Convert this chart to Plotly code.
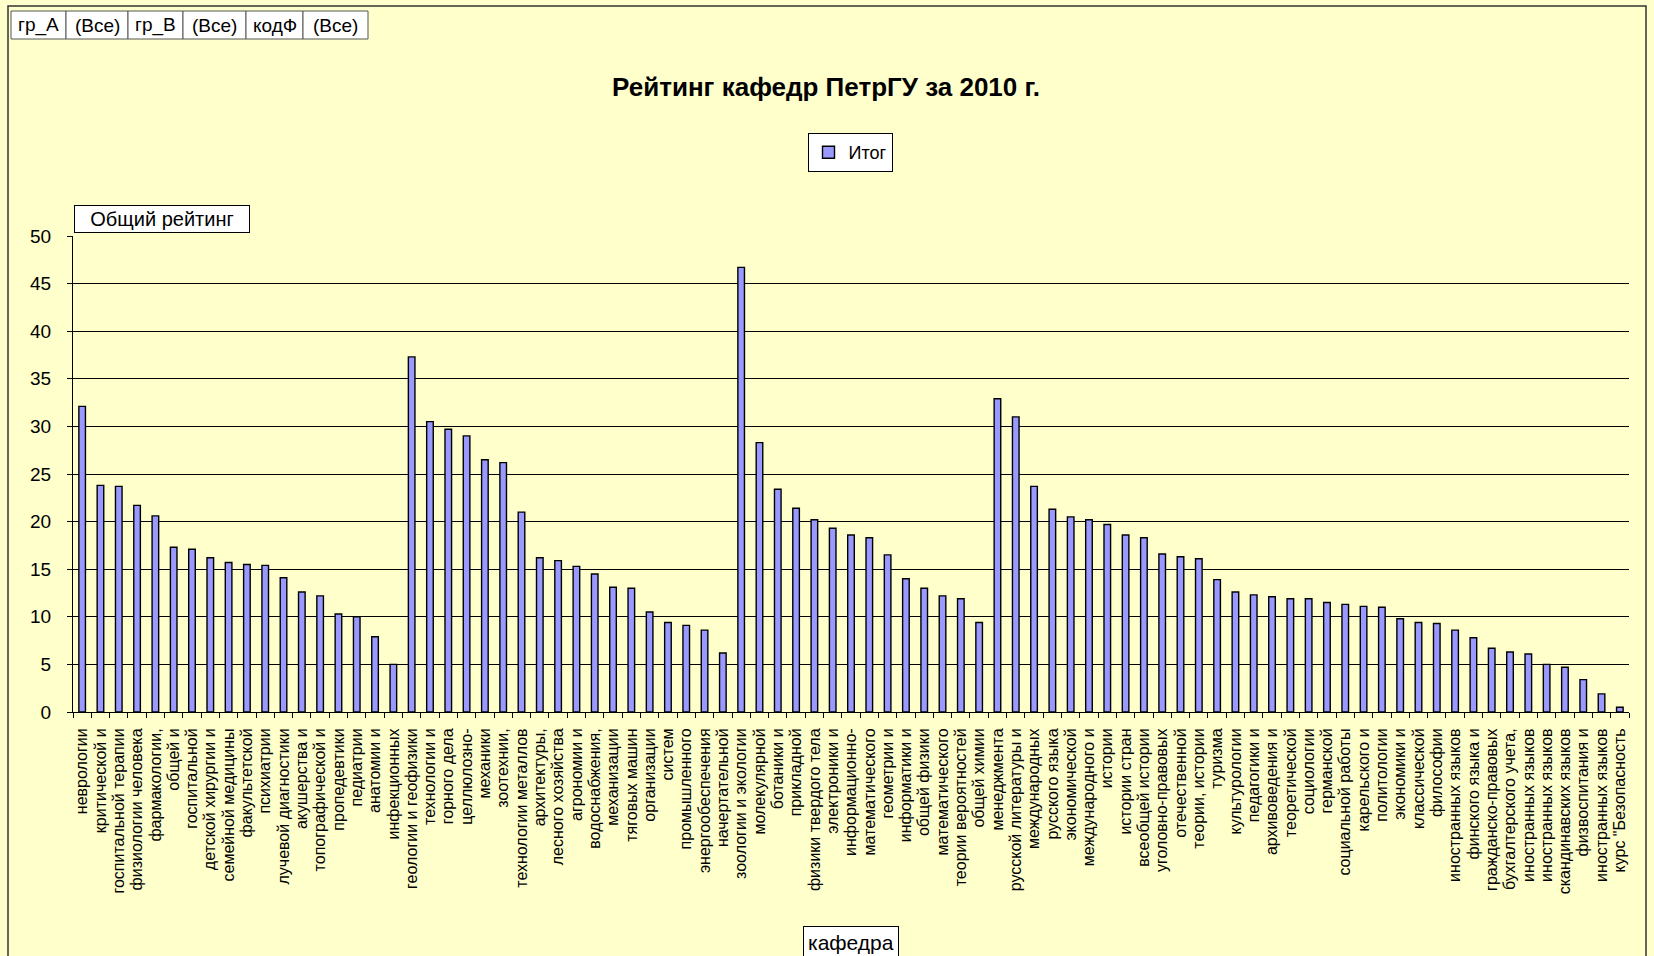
import plotly.graph_objects as go

categories = [
    "неврологии", "критической и", "госпитальной терапии", "физиологии человека",
    "фармакологии,", "общей и", "госпитальной", "детской хирургии и",
    "семейной медицины", "факультетской", "психиатрии", "лучевой диагностики",
    "акушерства и", "топографической и", "пропедевтики", "педиатрии",
    "анатомии и", "инфекционных", "геологии и геофизики", "технологии и",
    "горного дела", "целлюлозно-", "механики", "зоотехнии,",
    "технологии металлов", "архитектуры,", "лесного хозяйства", "агрономии и",
    "водоснабжения,", "механизации", "тяговых машин", "организации",
    "систем", "промышленного", "энергообеспечения", "начертательной",
    "зоологии и экологии", "молекулярной", "ботаники и", "прикладной",
    "физики твердого тела", "электроники и", "информационно-", "математического",
    "геометрии и", "информатики и", "общей физики", "математического",
    "теории вероятностей", "общей химии", "менеджмента", "русской литературы и",
    "международных", "русского языка", "экономической", "международного и",
    "истории", "истории стран", "всеобщей истории", "уголовно-правовых",
    "отечественной", "теории, истории", "туризма", "культурологии",
    "педагогики и", "архивоведения и", "теоретической", "социологии",
    "германской", "социальной работы", "карельского и", "политологии",
    "экономики и", "классической", "философии", "иностранных языков",
    "финского языка и", "гражданско-правовых", "бухгалтерского учета,", "иностранных языков",
    "иностранных языков", "скандинавских языков", "физвоспитания и", "иностранных языков",
    "курс \"Безопасность",
]

values = [
    32.1, 23.8, 23.7, 21.7, 20.6, 17.3, 17.1, 16.2, 15.7, 15.5,
    15.4, 14.1, 12.6, 12.2, 10.3, 10.0, 7.9, 5.0, 37.3, 30.5,
    29.7, 29.0, 26.5, 26.2, 21.0, 16.2, 15.9, 15.3, 14.5, 13.1,
    13.0, 10.5, 9.4, 9.1, 8.6, 6.2, 46.7, 28.3, 23.4, 21.4,
    20.2, 19.3, 18.6, 18.3, 16.5, 14.0, 13.0, 12.2, 11.9, 9.4,
    32.9, 31.0, 23.7, 21.3, 20.5, 20.2, 19.7, 18.6, 18.3, 16.6,
    16.3, 16.1, 13.9, 12.6, 12.3, 12.1, 11.9, 11.9, 11.5, 11.3,
    11.1, 11.0, 9.8, 9.4, 9.3, 8.6, 7.8, 6.7, 6.3, 6.1,
    5.0, 4.7, 3.4, 1.9, 0.5,
]

y_ticks = [0, 5, 10, 15, 20, 25, 30, 35, 40, 45, 50]
series_name = "Итог"
title_text = "Рейтинг кафедр ПетрГУ за 2010 г."
y_title = "Общий рейтинг"
x_title = "кафедра"
filter_labels = ["гр_А", "(Все)", "гр_В", "(Все)", "кодФ", "(Все)"]

W, H = 1654, 956
ML, MR, MT, MB = 73, 25, 236, 244
PW = W - ML - MR
PH = H - MT - MB
BG = "#FFFFCC"
FONT = "Liberation Sans, Arial, sans-serif"


def px(xp):
    return (xp - ML) / PW


def py(yp):
    return 1 - (yp - MT) / PH


xs = list(range(1, len(values) + 1))

fig = go.Figure()
fig.add_trace(go.Bar(
    x=xs, y=values, name=series_name, width=0.36,
    marker=dict(color="#9999FF", line=dict(color="#000000", width=1.4)),
    showlegend=True,
))

fig.update_layout(
    width=W, height=H,
    margin=dict(l=ML, r=MR, t=MT, b=MB),
    paper_bgcolor=BG, plot_bgcolor=BG,
    font=dict(family=FONT, color="#000000", size=14),
    title=dict(text="<b>" + title_text + "</b>", x=px(826), xref="paper", xanchor="center",
               y=1 - 87 / H, yanchor="middle", font=dict(size=26, family=FONT)),
    showlegend=True,
    legend=dict(x=px(850), xanchor="center", y=py(133), yanchor="top",
                bgcolor="#FFFFFF", bordercolor="#000000", borderwidth=1,
                font=dict(size=18), itemwidth=30, tracegroupgap=0),
    bargap=0.6,
)

fig.update_xaxes(
    range=[0.5, len(values) + 0.5],
    tickmode="array", tickvals=xs, ticktext=categories,
    tickangle=-90, ticks="", ticklen=0, ticklabelstandoff=9,
    tickfont=dict(size=16, family=FONT),
    showgrid=False, zeroline=False,
    showline=True, linecolor="#000000", linewidth=1,
    automargin=False,
    minor=dict(tick0=0.5, dtick=1, ticks="outside", ticklen=5, tickcolor="#000000", showgrid=False),
)
fig.update_yaxes(
    range=[0, 50], tickmode="array", tickvals=y_ticks,
    ticks="outside", ticklen=5, tickcolor="#000000", ticklabelstandoff=12,
    tickfont=dict(size=19, family=FONT),
    showgrid=True, gridcolor="#000000", gridwidth=1,
    zeroline=False, showline=True, linecolor="#000000", linewidth=1,
    automargin=False,
)

# chart-area border
fig.add_shape(type="rect", xref="paper", yref="paper",
              x0=px(8), x1=px(1646), y0=py(960), y1=py(6),
              line=dict(color="#333333", width=1.5), fillcolor="rgba(0,0,0,0)", layer="below")

# axis title boxes
fig.add_annotation(xref="paper", yref="paper", x=px(74), y=py(205), xanchor="left", yanchor="top",
                   text=y_title, showarrow=False, bgcolor="#FFFFFF", bordercolor="#000000",
                   borderwidth=1, borderpad=2, width=170, height=22,
                   font=dict(size=20, family=FONT))
fig.add_annotation(xref="paper", yref="paper", x=px(851), y=py(926), xanchor="center", yanchor="top",
                   text=x_title, showarrow=False, bgcolor="#FFFFFF", bordercolor="#000000",
                   borderwidth=1, borderpad=4, font=dict(size=21, family=FONT))

# filter buttons
edges = [11, 66, 128, 183, 246, 303, 368]
for i, lab in enumerate(filter_labels):
    x0, x1 = edges[i], edges[i + 1]
    fig.add_shape(type="rect", xref="paper", yref="paper",
                  x0=px(x0), x1=px(x1), y0=py(39), y1=py(11),
                  line=dict(color="#555555", width=1), fillcolor="#FFFFFF")
    fig.add_annotation(xref="paper", yref="paper", x=px((x0 + x1) / 2), y=py(25),
                       xanchor="center", yanchor="middle", text=lab, showarrow=False,
                       font=dict(size=19, family=FONT))

fig.write_html(
    "out.html",
    config={"displayModeBar": False},
    post_script="document.body.style.margin='0';document.body.style.background='#FFFFCC';"
                "document.body.style.overflow='hidden';",
)
